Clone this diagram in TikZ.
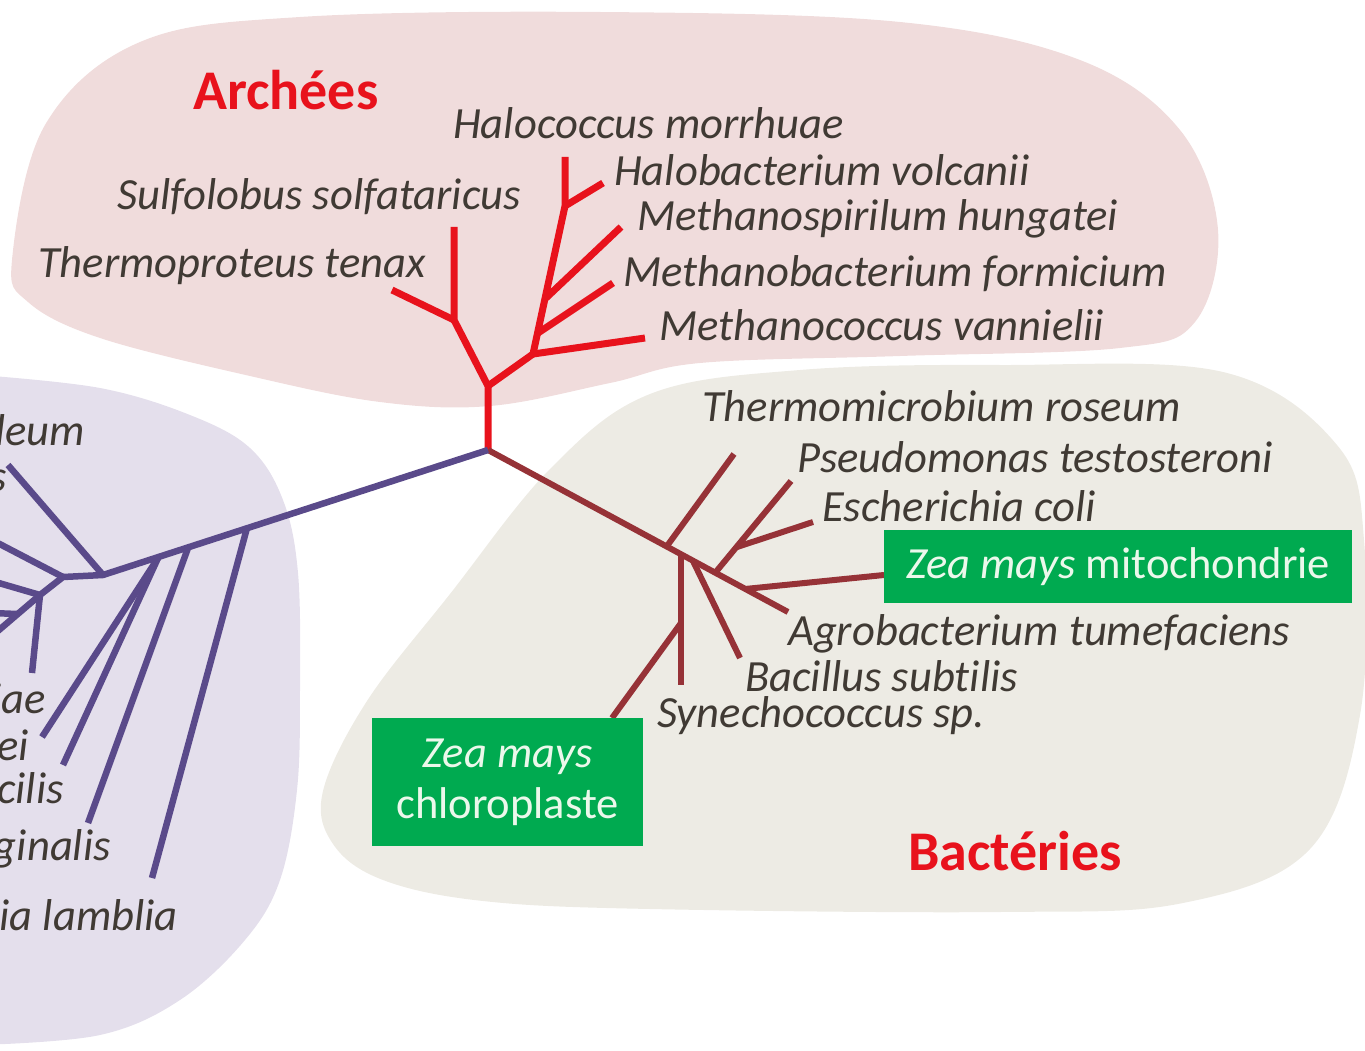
\documentclass[tikz,border=0pt]{standalone}
\usepackage{fontspec}
\setmainfont{Carlito}[Ligatures=NoCommon]
\definecolor{archred}{RGB}{232,18,28}
\definecolor{eukpurple}{RGB}{90,74,138}
\definecolor{bactred}{RGB}{150,50,55}
\definecolor{archfill}{RGB}{240,220,220}
\definecolor{bactfill}{RGB}{237,235,228}
\definecolor{eukfill}{RGB}{228,223,236}
\definecolor{boxgreen}{RGB}{0,170,80}
\definecolor{boxtext}{RGB}{235,248,235}
\definecolor{labelgray}{RGB}{64,58,52}

\begin{document}
\begin{tikzpicture}[
  x=1pt, y=-1pt,
  every node/.style={inner sep=0pt},
  sp/.style={anchor=base west, text=labelgray, font=\fontsize{44.6}{50}\selectfont\itshape},
  spcut/.style={sp, anchor=base east},
  domtitle/.style={anchor=base west, text=archred, font=\fontsize{56}{60}\selectfont\bfseries},
  organelle/.style={fill=boxgreen, text=boxtext, align=center, font=\fontsize{44.5}{51}\selectfont},
  archline/.style={archred, line width=7pt, line join=round},
  bactline/.style={bactred, line width=6pt, line join=round},
  eukline/.style={eukpurple, line width=6.5pt, line join=round}
]
\useasboundingbox (0,0) rectangle (1365,1051);

% domain backgrounds
\fill[archfill] plot[smooth cycle, tension=0.6] coordinates {
  (12,260) (45,125) (140,42) (300,17) (600,12) (900,22) (1080,60) (1180,130)
  (1218,230) (1195,322) (1120,348) (900,356) (700,363) (610,383) (490,406)
  (380,402) (250,376) (100,338) (28,302)};
\fill[bactfill] plot[smooth cycle, tension=0.6] coordinates {
  (650,394) (800,370) (1000,365) (1223,372) (1337,445) (1364,540) (1360,715)
  (1310,849) (1183,903) (1000,912) (650,909) (483,901) (383,880) (333,844)
  (323,791) (367,701) (450,594) (550,469)};
\fill[eukfill] plot[smooth, tension=0.6] coordinates {
  (-20,375) (100,388) (190,415) (250,448) (283,500) (298,573) (300,690)
  (297,790) (280,880) (245,940) (180,1000) (100,1035) (-20,1045)} -- cycle;

\coordinate (root) at (488,450);

% archees
\coordinate (a1) at (488,386);
\coordinate (a2) at (454,320);
\coordinate (a3) at (533,354);
\coordinate (a4) at (538,333);
\coordinate (a5) at (546,298);
\coordinate (a6) at (565,206);
\coordinate (tTher) at (392,290);
\coordinate (tSulf) at (454,227);
\coordinate (tMcoc) at (645,338);
\coordinate (tMbac) at (613,283);
\coordinate (tMspi) at (621,227);
\coordinate (tHbac) at (603,183);
\coordinate (tHcoc) at (565,157);

\draw[archline] (root) -- (a1) -- (a2) -- (tSulf);
\draw[archline] (a2) -- (tTher);
\draw[archline] (a1) -- (a3) -- (a6) -- (tHcoc);
\draw[archline] (a3) -- (tMcoc);
\draw[archline] (a4) -- (tMbac);
\draw[archline] (a5) -- (tMspi);
\draw[archline] (a6) -- (tHbac);

% bacteries
\coordinate (b1) at (667,546);
\coordinate (b2) at (681,554);
\coordinate (b3) at (693,561);
\coordinate (b4) at (715,573);
\coordinate (b5) at (745,589);
\coordinate (b6) at (681,623);
\coordinate (b7) at (737,547);
\coordinate (tAgro) at (788,612);
\coordinate (tTmic) at (734,454);
\coordinate (tSyn) at (681,685);
\coordinate (tChlo) at (612,718);
\coordinate (tBac) at (740,658);
\coordinate (tPse) at (791,481);
\coordinate (tEsc) at (813,522);
\coordinate (tMito) at (884,575);

\draw[bactline] (root) -- (tAgro);
\draw[bactline] (b1) -- (tTmic);
\draw[bactline] (b2) -- (tSyn);
\draw[bactline] (b6) -- (tChlo);
\draw[bactline] (b3) -- (tBac);
\draw[bactline] (b4) -- (tPse);
\draw[bactline] (b7) -- (tEsc);
\draw[bactline] (b5) -- (tMito);

% eucaryotes
\coordinate (e1) at (247,528);
\coordinate (e2) at (188,548);
\coordinate (e3) at (158,558);
\coordinate (e4) at (103,575);
\coordinate (e5) at (63,577);
\coordinate (e6) at (40,595);
\coordinate (e7) at (17,614);
\coordinate (tGia) at (152,878);
\coordinate (tTri) at (88,823);
\coordinate (tEug) at (63,765);
\coordinate (tTry) at (42,737);
\coordinate (tUp) at (8,465);
\coordinate (tSac) at (32,673);
\coordinate (cut1) at (-8,540);
\coordinate (cut2) at (-8,581);
\coordinate (cut3) at (-8,636);
\coordinate (cut4) at (-8,613);

\draw[eukline] (root) -- (e4) -- (e5) -- (e6) -- (tSac);
\draw[eukline] (e1) -- (tGia);
\draw[eukline] (e2) -- (tTri);
\draw[eukline] (e3) -- (tEug);
\draw[eukline] (e3) -- (tTry);
\draw[eukline] (e4) -- (tUp);
\draw[eukline] (e5) -- (cut1);
\draw[eukline] (e6) -- (cut2);
\draw[eukline] (e6) -- (cut3);
\draw[eukline] (e7) -- (cut4);

% titres
\node[domtitle] (archees) at (193,110) {Archées};
\node[domtitle] (bacteries) at (908,870) {Bactéries};

% especes
\node[sp] (hcoc) at (453,139) {Halococcus morrhuae};
\node[sp] (hbac) at (614,186) {Halobacterium volcanii};
\node[sp] (sulf) at (117,210) {Sulfolobus solfataricus};
\node[sp] (mspi) at (637,230) {Methanospirilum hungatei};
\node[sp] (ther) at (38,277) {Thermoproteus tenax};
\node[sp] (mbac) at (623,286) {Methanobacterium formicium};
\node[sp] (mcoc) at (659,340) {Methanococcus vannielii};
\node[sp] (tmic) at (702,421) {Thermomicrobium roseum};
\node[sp] (pse) at (797,472) {Pseudomonas testosteroni};
\node[sp] (esc) at (822,521) {Escherichia coli};
\node[sp] (agro) at (788,645) {Agrobacterium tumefaciens};
\node[sp] (bac) at (745,691) {Bacillus subtilis};
\node[sp] (syn) at (657,727) {Synechococcus sp.};

\node[spcut] (deum) at (85,445) {deum};
\node[spcut] (sfrag) at (7,491) {s};
\node[spcut] (iae) at (46,713) {iae};
\node[spcut] (ei) at (29,760) {ei};
\node[spcut] (cilis) at (64,803) {cilis};
\node[spcut] (ginalis) at (111,860) {ginalis};
\node[spcut] (lamblia) at (178,930) {ia lamblia};

% organites
\node[organelle, minimum width=468pt, minimum height=73pt] (mito) at (1118,566.5)
  {\textit{Zea mays} mitochondrie};
\node[organelle, minimum width=271pt, minimum height=128pt] (chlo) at (507.5,782)
  {\textit{Zea mays}\\chloroplaste};
\end{tikzpicture}
\end{document}
